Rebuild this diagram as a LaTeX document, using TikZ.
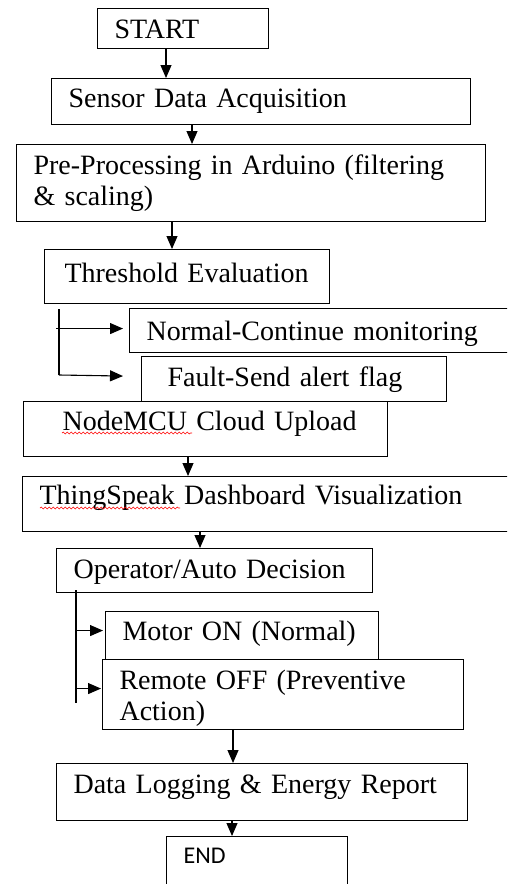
\documentclass[tikz,border=0pt]{standalone}
\usepackage{fontspec}
\setmainfont{Liberation Serif}
\newfontfamily\endfont{Carlito}
\usetikzlibrary{arrows.meta,decorations.pathmorphing}

\begin{document}
\begin{tikzpicture}[x=1pt, y=-1pt,
    box/.style={draw, line width=1.1pt, anchor=north west, inner xsep=17pt, inner ysep=0pt,
                align=left, font=\fontsize{28}{31}\selectfont},
    single/.style={text height=22pt, text depth=#1},
    flow/.style={line width=1.1pt, -{Triangle[length=13pt,width=11pt]}},
    squiggle/.style={red, line width=0.6pt, decorate,
                     decoration={snake, amplitude=0.9pt, segment length=4pt}}]
  \clip (0,0) rectangle (507,884);
  \fill[white] (0,0) rectangle (507,884);

  \node[box, single=2pt, minimum width=171pt, minimum height=40pt, text width=137pt] (start) at (97,8) {START};
  \node[box, single=10pt, minimum width=419pt, minimum height=46pt, text width=385pt] (sensor) at (51,78) {Sensor Data Acquisition};
  \node[box, minimum width=469pt, minimum height=77pt, text width=435pt] (prep) at (16,144)
       {Pre-Processing in Arduino (filtering\\\& scaling)};
  \node[box, single=10pt, minimum width=285pt, minimum height=54pt, text width=251pt] (thresh) at (44,249)
       {\hspace*{3pt}Threshold Evaluation};
  \node[box, single=2pt, minimum width=386pt, minimum height=44pt, text width=352pt] (normal) at (129,308)
       {Normal-Continue monitoring};
  \node[box, single=8pt, minimum width=305pt, minimum height=45pt, text width=271pt] (fault) at (141,356)
       {\hspace*{9pt}Fault-Send alert flag};
  \node[box, single=19pt, minimum width=364pt, minimum height=55pt, text width=330pt] (nodemcu) at (23,401)
       {\hspace*{22pt}NodeMCU Cloud Upload};
  \node[box, single=21pt, minimum width=493pt, minimum height=55pt, text width=459pt] (thing) at (22,476)
       {ThingSpeak Dashboard Visualization};
  \node[box, single=6pt, minimum width=316pt, minimum height=44pt, text width=282pt] (oper) at (56,548)
       {Operator/Auto Decision};
  \node[box, single=12pt, minimum width=273pt, minimum height=48pt, text width=239pt] (motor) at (105,611)
       {Motor ON (Normal)};
  \node[box, minimum width=361pt, minimum height=70pt, text width=327pt] (remote) at (102,659)
       {\rule{0pt}{27pt}Remote OFF (Preventive\\Action)};
  \node[box, single=19pt, minimum width=411pt, minimum height=57pt, text width=377pt] (datalog) at (56,763)
       {Data Logging \& Energy Report};
  \node[box, single=32pt, minimum width=181pt, minimum height=64pt, text width=147pt,
        font=\endfont\fontsize{24}{28}\selectfont] (end) at (166,836) {END};

  % spell-check marks
  \draw[squiggle] (62,433) -- (192,433);
  \draw[squiggle] (40,508) -- (180,508);

  \draw[flow] (start.south -| 166,0) -- (sensor.north -| 166,0);
  \draw[flow] (sensor.south -| 192,0) -- (prep.north -| 192,0);
  \draw[flow] (prep.south -| 172,0) -- (thresh.north -| 172,0);
  \draw[line width=1.1pt] ([yshift=-5pt]thresh.south -| 59,0) -- (59,375);
  \draw[flow] (59,375) -- ([xshift=-18pt,yshift=3pt]fault.west);
  \draw[flow] ([yshift=2pt]normal.west -| 56,0) -- ([xshift=-6pt,yshift=2pt]normal.west);
  \draw[flow] (nodemcu.south -| 188,0) -- (thing.north -| 188,0);
  \draw[flow] (thing.south -| 200,0) -- (oper.north -| 200,0);
  \draw[line width=1.1pt] ([yshift=3pt]oper.south -| 76,0) -- ++(0,113);
  \draw[flow] ([yshift=5pt]motor.west -| 76,0) -- ([xshift=-2pt,yshift=5pt]motor.west);
  \draw[flow] ([yshift=6pt]remote.west -| 76,0) -- ([xshift=-1pt,yshift=6pt]remote.west);
  \draw[flow] (remote.south -| 233,0) -- (datalog.north -| 233,0);
  \draw[flow] (datalog.south -| 232,0) -- (end.north -| 232,0);
\end{tikzpicture}
\end{document}
